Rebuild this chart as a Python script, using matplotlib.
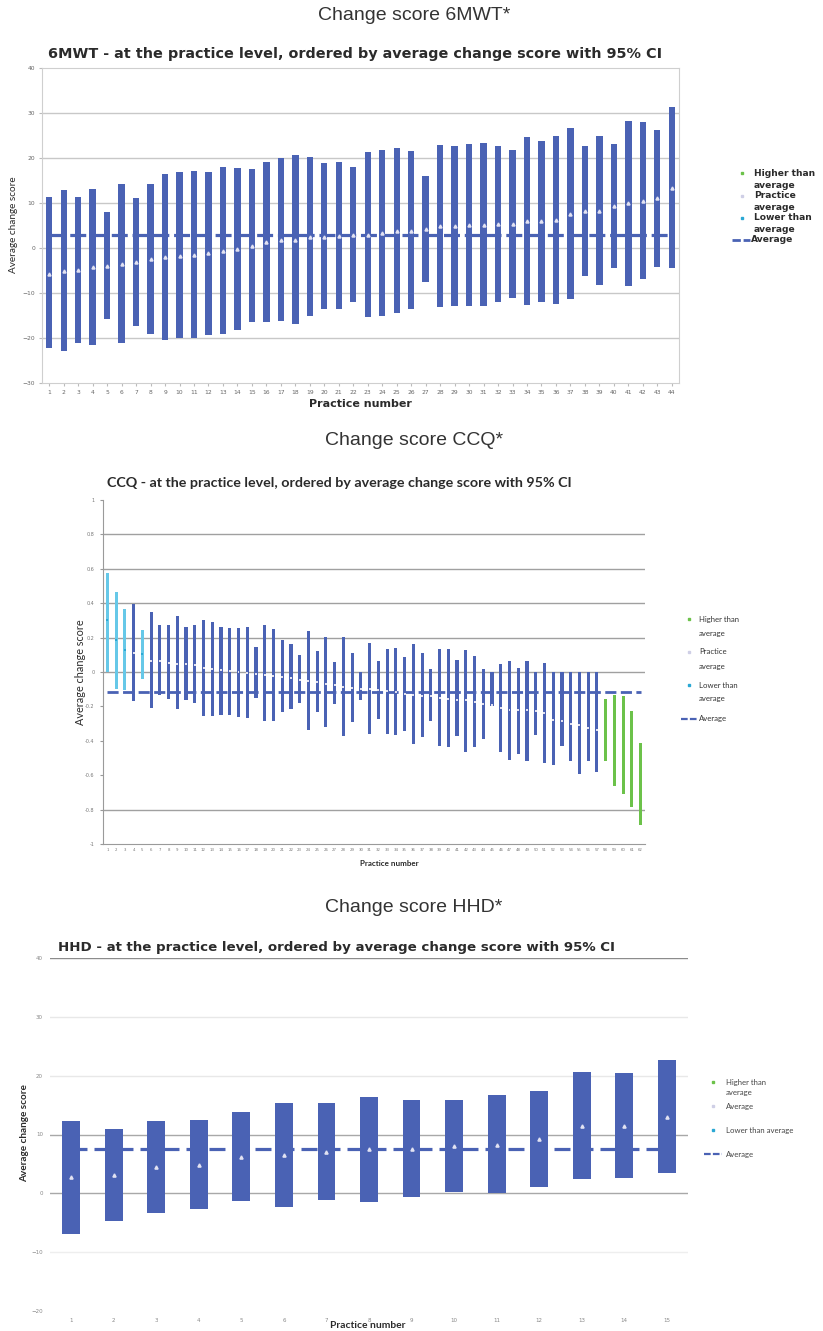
import numpy as np
import matplotlib.pyplot as plt
from matplotlib.lines import Line2D

W, H = 823, 1331

# ---- 6MWT: 95% CI upper / lower and practice mean, 44 practices
mwt_upper = [11.3, 12.9, 11.3, 13.2, 7.9, 14.3, 11.1, 14.3, 16.4, 16.8, 17.2, 16.8, 18.0, 17.8, 17.5,
             19.2, 20.1, 20.7, 20.3, 18.9, 19.1, 17.9, 21.4, 21.8, 22.2, 21.5, 16.0, 22.8, 22.6, 23.0,
             23.3, 22.6, 21.8, 24.6, 23.8, 24.9, 26.6, 22.7, 24.9, 23.2, 28.2, 27.9, 26.3, 31.3]
mwt_lower = [-22.2, -22.9, -21.0, -21.5, -15.8, -21.0, -17.3, -19.0, -20.4, -20.0, -20.0, -19.3, -19.0, -18.2, -16.5,
             -16.4, -16.3, -16.8, -15.1, -13.6, -13.6, -11.9, -15.3, -15.1, -14.4, -13.6, -7.5, -13.2, -12.9, -12.8,
             -12.8, -12.0, -11.0, -12.7, -11.9, -12.5, -11.3, -6.2, -8.2, -4.5, -8.5, -6.8, -4.2, -4.5]
mwt_mean = [-5.7, -5.1, -4.9, -4.3, -4.0, -3.5, -3.2, -2.4, -2.1, -1.7, -1.5, -1.2, -0.6, -0.2, 0.4,
            1.3, 1.7, 1.8, 2.4, 2.5, 2.6, 2.8, 3.0, 3.3, 3.7, 3.8, 4.2, 4.8, 4.8, 5.1,
            5.2, 5.3, 5.4, 5.9, 5.9, 6.2, 7.6, 8.2, 8.2, 9.4, 9.9, 10.4, 11.0, 13.3]
mwt_avg = 2.8

# ---- CCQ: 62 practices, group L = lower than average, H = higher than average
ccq_upper = [0.576, 0.465, 0.364, 0.395, 0.246, 0.347, 0.273, 0.271, 0.324, 0.260, 0.273, 0.304, 0.293, 0.260, 0.256,
             0.256, 0.264, 0.143, 0.271, 0.248, 0.188, 0.163, 0.101, 0.240, 0.124, 0.202, 0.056, 0.202, 0.109, 0.0,
             0.169, 0.064, 0.134, 0.138, 0.085, 0.163, 0.110, 0.017, 0.136, 0.136, 0.072, 0.130, 0.091, 0.017, 0.0,
             0.048, 0.064, 0.025, 0.064, 0.0, 0.052, 0.0, 0.0, 0.0, 0.0, 0.0, 0.0,
             -0.155, -0.136, -0.142, -0.229, -0.413]
ccq_lower = [0.0, -0.099, -0.103, -0.167, -0.041, -0.209, -0.136, -0.157, -0.215, -0.161, -0.180, -0.254, -0.254, -0.248, -0.248,
             -0.262, -0.267, -0.149, -0.283, -0.283, -0.233, -0.215, -0.180, -0.339, -0.233, -0.322, -0.186, -0.374, -0.291, -0.165,
             -0.359, -0.275, -0.359, -0.366, -0.345, -0.419, -0.376, -0.287, -0.428, -0.436, -0.374, -0.465, -0.438, -0.390, -0.196,
             -0.465, -0.510, -0.475, -0.519, -0.368, -0.529, -0.539, -0.428, -0.519, -0.591, -0.519, -0.583,
             -0.517, -0.665, -0.709, -0.785, -0.888]
ccq_mean = [0.304, 0.184, 0.130, 0.110, 0.103, 0.066, 0.066, 0.052, 0.047, 0.047, 0.039, 0.023, 0.017, 0.010, 0.004,
            0.0, -0.006, -0.010, -0.016, -0.021, -0.029, -0.035, -0.045, -0.054, -0.060, -0.068, -0.076, -0.087, -0.091, -0.099,
            -0.101, -0.107, -0.110, -0.116, -0.130, -0.134, -0.138, -0.141, -0.151, -0.157, -0.161, -0.165, -0.174, -0.184, -0.192,
            -0.209, -0.219, -0.223, -0.223, -0.229, -0.238, -0.277, -0.287, -0.300, -0.310, -0.326, -0.335,
            -0.336, -0.400, -0.425, -0.507, -0.650]
ccq_group = ['L', 'L', 'L', 'P', 'L'] + ['P'] * 52 + ['H'] * 5
ccq_avg = -0.116

# ---- HHD: 15 practices
hhd_upper = [12.3, 11.0, 12.3, 12.5, 13.8, 15.4, 15.3, 16.3, 15.9, 15.9, 16.7, 17.4, 20.6, 20.4, 22.7]
hhd_lower = [-6.9, -4.7, -3.4, -2.7, -1.3, -2.4, -1.1, -1.5, -0.6, 0.3, 0.0, 1.0, 2.4, 2.6, 3.4]
hhd_mean = [2.7, 3.2, 4.4, 4.9, 6.2, 6.5, 7.1, 7.5, 7.6, 8.1, 8.3, 9.2, 11.4, 11.5, 13.0]
hhd_avg = 7.5

BLUE = '#4a62b4'
CYAN = '#66c8e8'
CYAN_DOT = '#2aa8d4'
GREEN = '#6cc24a'
DOT = '#e2e2f2'
TXT = '#2b2b2b'


def box(x0, y0, x1, y1):
    return [x0 / W, 1 - y1 / H, (x1 - x0) / W, (y1 - y0) / H]


def ftext(x, y, s, **kw):
    fig.text(x / W, 1 - y / H, s, **kw)


def fline(x0, x1, y, **kw):
    fig.add_artist(Line2D([x0 / W, x1 / W], [1 - y / H, 1 - y / H], transform=fig.transFigure, **kw))


def fdot(x, y, c, ms=2.5):
    fig.add_artist(Line2D([x / W], [1 - y / H], transform=fig.transFigure, marker='s', ms=ms,
                          color=c, ls=''))


fig = plt.figure(figsize=(W / 100, H / 100), dpi=100)

# section headers
for y, s in [(15, 'Change score 6MWT*'), (441, 'Change score CCQ*'), (908, 'Change score HHD*')]:
    ftext(414, y, s, ha='center', va='center', fontsize=14, family='Liberation Sans', color='#333333')

# ================= 6MWT =================
ax1 = fig.add_axes(box(42, 68, 679, 383))
x1 = np.arange(1, len(mwt_mean) + 1)
lo = np.array(mwt_lower)
ax1.bar(x1, np.array(mwt_upper) - lo, bottom=lo, width=0.44, color=BLUE, zorder=2)
ax1.plot(x1, mwt_mean, ls='', marker='^', ms=2.2, color=DOT, zorder=4)
ax1.plot([1, len(x1)], [mwt_avg, mwt_avg], ls=(0, (5, 1.5)), lw=2.3, color=BLUE, zorder=3)
ax1.set_xlim(0.5, len(x1) + 0.5)
ax1.set_ylim(-30, 40)
ax1.set_yticks(range(-30, 41, 10))
ax1.set_xticks(x1)
ax1.tick_params(labelsize=4.3, labelcolor='#666666', length=2, color='#bbbbbb', pad=3)
for v in range(-20, 31, 10):
    ax1.axhline(v, color='#c8c8c8', lw=1, zorder=1)
for sp in ax1.spines.values():
    sp.set_color('#cfcfcf')
ftext(48, 54, '6MWT - at the practice level, ordered by average change score with 95% CI',
      ha='left', va='center', fontsize=10.4, fontweight='bold', color=TXT)
ftext(360, 404, 'Practice number', ha='center', va='center', fontsize=8, fontweight='bold', color=TXT)
ftext(14, 225, 'Average change score', ha='center', va='center', rotation=90, fontsize=7.2,
      family='Lato', color=TXT)

# legend
fdot(742, 173, GREEN, 2)
fdot(742, 196, '#cfcfe6', 2)
fdot(742, 218, CYAN_DOT, 2)
fline(732, 750, 240, color=BLUE, lw=2, ls=(0, (3, 1)))
for y, s in [(173, 'Higher than'), (185, 'average'), (196, 'Practice'), (207, 'average'),
             (218, 'Lower than'), (229, 'average'), (240, 'Average')]:
    ftext(754 if s != 'Average' else 751, y, s, ha='left', va='center', fontsize=6.6,
          fontweight='bold', color=TXT)

# ================= CCQ =================
ax2 = fig.add_axes(box(103, 500, 645, 844))
x2 = np.arange(1, len(ccq_mean) + 1)
col_map = {'L': CYAN, 'P': BLUE, 'H': GREEN}
dot_map = {'L': CYAN_DOT, 'P': DOT, 'H': GREEN}
lo2 = np.array(ccq_lower)
ax2.bar(x2, np.array(ccq_upper) - lo2, bottom=lo2, width=0.36,
        color=[col_map[g] for g in ccq_group], zorder=2)
ax2.scatter(x2, ccq_mean, s=2, marker='s', c=[dot_map[g] for g in ccq_group], zorder=4, linewidths=0)
ax2.plot([1, len(x2)], [ccq_avg, ccq_avg], ls=(0, (4, 1.6)), lw=2, color=BLUE, zorder=3)
ax2.set_xlim(0.5, len(x2) + 0.5)
ax2.set_ylim(-1, 1)
ax2.set_yticks(np.round(np.arange(-1, 1.01, 0.2), 1))
ax2.set_yticklabels(['-1', '-0.8', '-0.6', '-0.4', '-0.2', '0', '0.2', '0.4', '0.6', '0.8', '1'])
ax2.set_xticks(x2)
ax2.tick_params(axis='x', labelsize=2.8, labelcolor='#777777', length=0, pad=3)
ax2.tick_params(axis='y', labelsize=3.5, labelcolor='#777777', length=2, color='#999999', pad=4)
for v in [0.8, 0.6, 0.4, 0.2, 0.0, -0.8]:
    ax2.axhline(v, color='#a0a0a0', lw=1, zorder=1)
for s in ['top', 'right']:
    ax2.spines[s].set_visible(False)
for s in ['left', 'bottom']:
    ax2.spines[s].set_color('#9a9a9a')
ftext(107, 483, 'CCQ - at the practice level, ordered by average change score with 95% CI',
      ha='left', va='center', fontsize=10.3, fontweight='bold', family='Lato', color=TXT)
ftext(389, 864, 'Practice number', ha='center', va='center', fontsize=5.8, fontweight='bold',
      family='Lato', color=TXT)
ftext(80, 672, 'Average change score', ha='center', va='center', rotation=90, fontsize=7.8,
      family='Lato', color=TXT)

fdot(689, 619, GREEN, 1.8)
fdot(689, 652, '#cfcfe6', 1.8)
fdot(689, 685, CYAN_DOT, 1.8)
fline(681, 697, 719, color=BLUE, lw=1.6, ls=(0, (3, 1)))
for y, s in [(619, 'Higher than'), (633, 'average'), (652, 'Practice'), (666, 'average'),
             (685, 'Lower than'), (699, 'average'), (719, 'Average')]:
    ftext(699, y, s, ha='left', va='center', fontsize=5.6, family='Lato', color='#333333')

# ================= HHD =================
ax3 = fig.add_axes(box(50, 958, 688, 1311))
x3 = np.arange(1, len(hhd_mean) + 1)
lo3 = np.array(hhd_lower)
ax3.bar(x3, np.array(hhd_upper) - lo3, bottom=lo3, width=0.42, color=BLUE, zorder=2)
ax3.plot(x3, hhd_mean, ls='', marker='^', ms=2.3, color=DOT, zorder=4)
ax3.plot([1, len(x3)], [hhd_avg, hhd_avg], ls=(0, (5, 2.2)), lw=2.3, color=BLUE, zorder=3)
ax3.set_xlim(0.5, len(x3) + 0.5)
ax3.set_ylim(-20, 40)
ax3.set_yticks(range(-20, 41, 10))
ax3.set_xticks(x3)
ax3.tick_params(labelsize=4, labelcolor='#888888', length=0, pad=5)
grid_cols = {40: '#8c8c8c', 30: '#e8e8e8', 20: '#e8e8e8', 10: '#a8a8a8', 0: '#a8a8a8', -10: '#eeeeee'}
for v, c in grid_cols.items():
    ax3.axhline(v, color=c, lw=1, zorder=1)
for sp in ax3.spines.values():
    sp.set_visible(False)
ftext(58, 948, 'HHD - at the practice level, ordered by average change score with 95% CI',
      ha='left', va='center', fontsize=9.6, fontweight='bold', color=TXT)
ftext(368, 1325, 'Practice number', ha='center', va='center', fontsize=7.4, fontweight='bold',
      family='Lato', color=TXT)
ftext(25, 1133, 'Average change score', ha='center', va='center', rotation=90, fontsize=7.2,
      family='Lato', fontweight='bold', color=TXT)

fdot(713, 1082, GREEN, 1.8)
fdot(713, 1106, '#cfcfe6', 1.8)
fdot(713, 1130, CYAN_DOT, 1.8)
fline(704, 722, 1154, color=BLUE, lw=1.6, ls=(0, (3, 1)))
for y, s in [(1082, 'Higher than'), (1093, 'average'), (1106, 'Average'),
             (1130, 'Lower than average'), (1154, 'Average')]:
    ftext(726, y, s, ha='left', va='center', fontsize=5.6, family='Lato', color='#444444')

fig.savefig('out.png', dpi=100, facecolor='white')
